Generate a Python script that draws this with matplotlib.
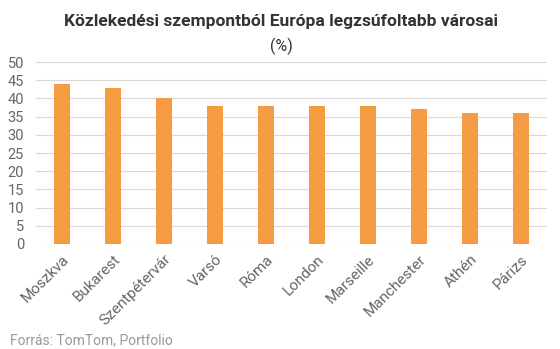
import matplotlib
matplotlib.use("Agg")
import matplotlib.pyplot as plt

# Adatok
varosok = ['Moszkva', 'Bukarest', 'Szentpétervár', 'Varsó', 'Róma', 'London',
           'Marseille', 'Manchester', 'Athén', 'Párizs']
ertekek = [44, 43, 40, 38, 38, 38, 38, 37, 36, 36]
y_tickek = [0, 5, 10, 15, 20, 25, 30, 35, 40, 45, 50]

plt.rcParams['font.family'] = ['Roboto', 'DejaVu Sans']

fig = plt.figure(figsize=(5.6, 3.49), dpi=100)
ax = fig.add_axes([0.065, 0.301, 0.911, 0.521])

x = range(len(varosok))
ax.bar(x, ertekek, width=0.31, color='#F59B42', zorder=3)

ax.set_xlim(-0.5, len(varosok) - 0.5)
ax.set_ylim(0, 50)
ax.set_yticks(y_tickek)
ax.set_xticks(list(x))
ax.set_xticklabels(varosok, rotation=45, ha='right', rotation_mode='anchor',
                   fontsize=11, color='#666666')
ax.tick_params(axis='y', labelsize=10.5, labelcolor='#666666', length=0, pad=9)
ax.tick_params(axis='x', length=0, pad=6)

ax.grid(axis='y', color='#d9d9d9', linewidth=0.8, zorder=0)
for s in ax.spines.values():
    s.set_visible(False)

fig.text(0.502, 0.937, 'Közlekedési szempontból Európa legzsúfoltabb városai',
         ha='center', va='center', fontsize=12.5, fontweight='bold', color='#333333')
fig.text(0.502, 0.868, '(%)', ha='center', va='center', fontsize=11.5, color='#333333')
fig.text(0.018, 0.026, 'Forrás: TomTom, Portfolio', ha='left', va='center',
         fontsize=10, color='#999999')

fig.savefig('out.png', dpi=100)
